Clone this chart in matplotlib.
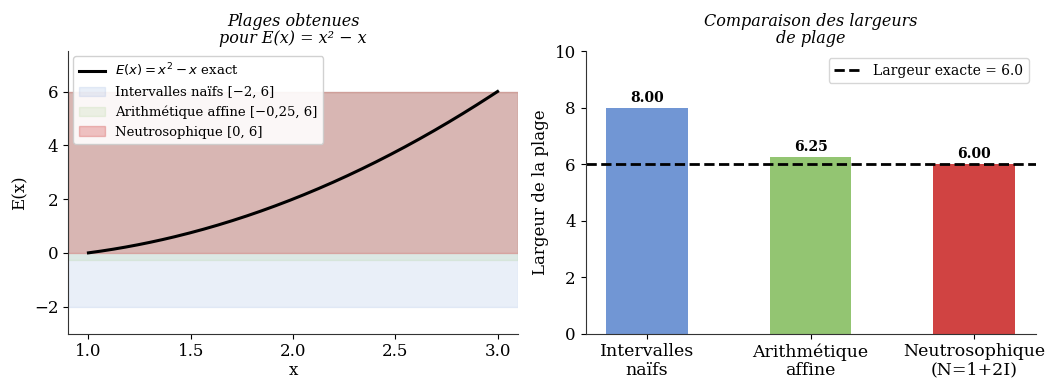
import numpy as np
import matplotlib.pyplot as plt

plt.rcParams['font.family'] = 'DejaVu Serif'
plt.rcParams['mathtext.fontset'] = 'dejavusans'

# --- Data ---
x_min, x_max = 1.0, 3.0
range_names = ["Intervalles naïfs [−2, 6]", "Arithmétique affine [−0,25, 6]", "Neutrosophique [0, 6]"]
range_low = [-2.0, -0.25, 0.0]
range_high = [6.0, 6.0, 6.0]
range_alpha = [0.15, 0.15, 0.3]

bar_labels = ["Intervalles\nnaïfs", "Arithmétique\naffine", "Neutrosophique\n(N=1+2I)"]
bar_widths = [8.00, 6.25, 6.00]
exact_width = 6.0
colors = ['#7196D4', '#93C572', '#D04342']

fig, (ax1, ax2) = plt.subplots(1, 2, figsize=(10.46, 3.79), dpi=100)
fig.subplots_adjust(left=0.065, right=0.99, top=0.865, bottom=0.12, wspace=0.15)

# --- Left: ranges ---
xs = np.linspace(x_min, x_max, 200)
ax1.plot(xs, xs**2 - xs, color='black', lw=2.2, label=r'$E(x) = x^2 - x$ exact')
for name, lo, hi, a, c in zip(range_names, range_low, range_high, range_alpha, colors):
    ax1.axhspan(lo, hi, xmin=0, xmax=1, color=c, alpha=a, label=name)
ax1.set_xlim(0.9, 3.1)
ax1.set_ylim(-3, 7.5)
ax1.set_xticks([1.0, 1.5, 2.0, 2.5, 3.0])
ax1.set_yticks([-2, 0, 2, 4, 6])
ax1.set_xlabel("x", fontsize=12, labelpad=1)
ax1.set_ylabel("E(x)", fontsize=12)
ax1.set_title("Plages obtenues\npour E(x) = x² − x", fontsize=11.5, style='italic', linespacing=1.0)
ax1.legend(loc='upper left', fontsize=9.5, handlelength=2.0, borderaxespad=0.4, framealpha=0.9)
ax1.tick_params(labelsize=12)

# --- Right: widths ---
pos = np.arange(len(bar_widths))
bars = ax2.bar(pos, bar_widths, width=0.5, color=colors)
for b, w in zip(bars, bar_widths):
    ax2.text(b.get_x() + b.get_width() / 2, w + 0.1, f"{w:.2f}", ha='center', va='bottom',
             fontsize=10, fontweight='bold')
ax2.axhline(exact_width, color='black', ls='--', lw=2, label=f"Largeur exacte = {exact_width}")
ax2.set_xticks(pos)
ax2.set_xticklabels(bar_labels, fontsize=12.5, linespacing=1.1)
ax2.set_ylim(0, 10)
ax2.set_ylabel("Largeur de la plage", fontsize=12)
ax2.set_title("Comparaison des largeurs\nde plage", fontsize=11.5, style='italic', linespacing=1.0)
ax2.legend(loc='upper right', fontsize=10)
ax2.tick_params(axis='y', labelsize=12)

for ax in (ax1, ax2):
    ax.spines['top'].set_visible(False)
    ax.spines['right'].set_visible(False)
    for s in ('left', 'bottom'):
        ax.spines[s].set_color('#333333')

fig.savefig("out.png", dpi=100)
